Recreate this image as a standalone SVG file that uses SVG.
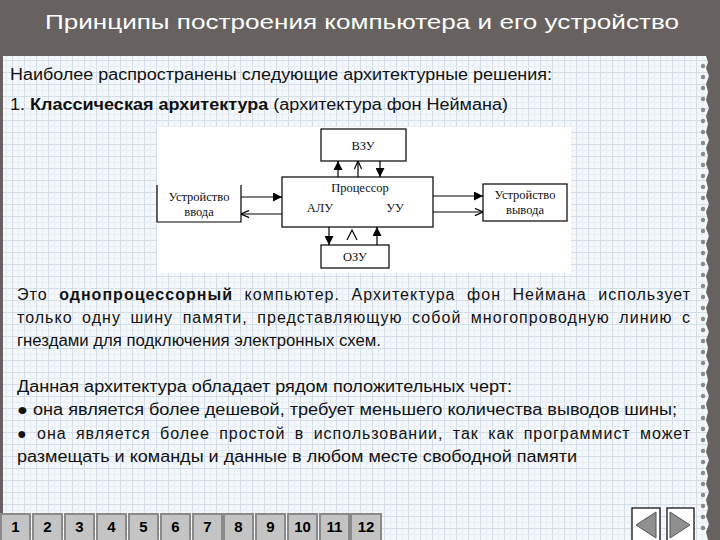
<svg xmlns="http://www.w3.org/2000/svg" width="720" height="540" viewBox="0 0 720 540">
<defs>
<style>
.t{font-family:"Liberation Sans",Arial,sans-serif;font-size:16px;fill:#111}
.b{font-weight:bold}
.s{font-family:"Liberation Serif","Times New Roman",serif;font-size:12.5px;fill:#111;text-anchor:middle}
.box{fill:#fff;stroke:#000;stroke-width:1.2}
.ln{stroke:#000;stroke-width:1.2;fill:none}
.btn{fill:#c4c4c4;stroke:#8a8a8a;stroke-width:2}
.num{font-family:"Liberation Sans",Arial,sans-serif;font-size:15px;font-weight:bold;fill:#000;text-anchor:middle}
.hole{fill:#8c8987}
</style>
<pattern id="grid" width="12" height="12" patternUnits="userSpaceOnUse">
<rect width="12" height="12" fill="#f5f8fb"/>
<path d="M0,0.5 H12 M0.5,0 V12" stroke="#d3dde8" stroke-width="1"/>
<path d="M0,6.5 H12 M6.5,0 V12" stroke="#e7edf3" stroke-width="1"/>
</pattern>
<marker id="af" viewBox="0 0 10 10" refX="10" refY="5" markerWidth="9" markerHeight="9" orient="auto" markerUnits="userSpaceOnUse"><path d="M0,0 L10,5 L0,10 z" fill="#000"/></marker>
<marker id="ao" viewBox="0 0 10 10" refX="10" refY="5" markerWidth="9" markerHeight="9" orient="auto" markerUnits="userSpaceOnUse"><path d="M1,1 L10,5 L1,9" fill="none" stroke="#000" stroke-width="1.3"/></marker>
</defs>

<rect width="720" height="540" fill="#67625f"/>
<text x="45" y="29" font-family="'Liberation Sans',Arial,sans-serif" font-size="21" fill="#fff" textLength="634" lengthAdjust="spacingAndGlyphs">Принципы построения компьютера и его устройство</text>

<g id="paper">
<path d="M3,56 H706 L708,62 L706,68 L709,76 L706,84 L708,92 L706,100 L709,108 L706,116 L708,124 L706,132 L709,140 L706,148 L708,156 L706,164 L709,172 L706,180 L708,188 L706,196 L709,204 L706,212 L708,220 L706,228 L709,236 L706,244 L708,252 L706,260 L709,268 L706,276 L708,284 L706,292 L709,300 L706,308 L708,316 L706,324 L709,332 L706,340 L708,348 L706,356 L709,364 L706,372 L708,380 L706,388 L709,396 L706,404 L708,412 L706,420 L709,428 L706,436 L708,444 L706,452 L709,460 L706,468 L708,476 L706,484 L709,492 L706,500 L708,508 L706,516 L709,524 L706,532 L708,540 H3 Z" fill="url(#grid)"/>
<g class="hole">
<circle cx="703" cy="66" r="2.2"/><circle cx="703" cy="77" r="2.2"/><circle cx="703" cy="88" r="2.2"/><circle cx="703" cy="99" r="2.2"/><circle cx="703" cy="110" r="2.2"/><circle cx="703" cy="121" r="2.2"/><circle cx="703" cy="132" r="2.2"/><circle cx="703" cy="143" r="2.2"/><circle cx="703" cy="154" r="2.2"/><circle cx="703" cy="165" r="2.2"/><circle cx="703" cy="176" r="2.2"/><circle cx="703" cy="187" r="2.2"/><circle cx="703" cy="198" r="2.2"/><circle cx="703" cy="209" r="2.2"/><circle cx="703" cy="220" r="2.2"/><circle cx="703" cy="231" r="2.2"/><circle cx="703" cy="242" r="2.2"/><circle cx="703" cy="253" r="2.2"/><circle cx="703" cy="264" r="2.2"/><circle cx="703" cy="275" r="2.2"/><circle cx="703" cy="286" r="2.2"/><circle cx="703" cy="297" r="2.2"/><circle cx="703" cy="308" r="2.2"/><circle cx="703" cy="319" r="2.2"/><circle cx="703" cy="330" r="2.2"/><circle cx="703" cy="341" r="2.2"/><circle cx="703" cy="352" r="2.2"/><circle cx="703" cy="363" r="2.2"/><circle cx="703" cy="374" r="2.2"/><circle cx="703" cy="385" r="2.2"/><circle cx="703" cy="396" r="2.2"/><circle cx="703" cy="407" r="2.2"/><circle cx="703" cy="418" r="2.2"/><circle cx="703" cy="429" r="2.2"/><circle cx="703" cy="440" r="2.2"/><circle cx="703" cy="451" r="2.2"/><circle cx="703" cy="462" r="2.2"/><circle cx="703" cy="473" r="2.2"/><circle cx="703" cy="484" r="2.2"/><circle cx="703" cy="495" r="2.2"/><circle cx="703" cy="506" r="2.2"/><circle cx="703" cy="517" r="2.2"/><circle cx="703" cy="528" r="2.2"/>
</g>
</g>

<text class="t" x="10" y="80" textLength="542" lengthAdjust="spacingAndGlyphs">Наиболее распространены следующие архитектурные решения:</text>
<text class="t" x="10" y="110" textLength="498" lengthAdjust="spacingAndGlyphs">1. <tspan class="b">Классическая архитектура</tspan> (архитектура фон Неймана)</text>

<rect x="157" y="127" width="414" height="146" fill="#fff"/>

<g id="connectors">
<path class="ln" d="M241,197 H282" marker-end="url(#af)"/>
<path class="ln" d="M282,214 H241" marker-end="url(#ao)"/>
<path class="ln" d="M433,196 H483" marker-end="url(#af)"/>
<path class="ln" d="M433,212 H483" marker-end="url(#ao)"/>
<path class="ln" d="M338,177 V161" marker-end="url(#af)"/>
<path class="ln" d="M358,177 V161" marker-end="url(#ao)"/>
<path class="ln" d="M380,161 V177" marker-end="url(#af)"/>
<path class="ln" d="M329,227 V245" marker-end="url(#af)"/>
<path class="ln" d="M347,240 L352,230 L357,240"/>
<path class="ln" d="M377,245 V227" marker-end="url(#af)"/>
</g>

<g id="vzu"><rect class="box" x="321" y="129" width="85" height="32"/><text class="s" x="363" y="150">ВЗУ</text></g>
<g id="cpu"><rect class="box" x="282" y="177" width="151" height="50"/><text class="s" x="360" y="192">Процессор</text><text class="s" x="320" y="212">АЛУ</text><text class="s" x="395" y="212">УУ</text></g>
<g id="input"><path class="ln" d="M157,185 V222 H241 V185"/><text class="s" x="199" y="201">Устройство</text><text class="s" x="199" y="216">ввода</text></g>
<g id="output"><rect class="box" x="483" y="184" width="84" height="37"/><text class="s" x="525" y="199">Устройство</text><text class="s" x="525" y="214">вывода</text></g>
<g id="ozu"><rect class="box" x="321" y="245" width="68" height="23"/><text class="s" x="355" y="261">ОЗУ</text></g>

<text class="t" x="17" y="300" word-spacing="6" textLength="673" lengthAdjust="spacing">Это <tspan class="b">однопроцессорный</tspan> компьютер. Архитектура фон Неймана использует</text>
<text class="t" x="17" y="323" word-spacing="4" textLength="673" lengthAdjust="spacing">только одну шину памяти, представляющую собой многопроводную линию с</text>
<text class="t" x="17" y="346" textLength="364" lengthAdjust="spacingAndGlyphs">гнездами для подключения электронных схем.</text>

<text class="t" x="17" y="392" textLength="495" lengthAdjust="spacingAndGlyphs">Данная архитектура обладает рядом положительных черт:</text>
<text class="t" x="17" y="415" textLength="660" lengthAdjust="spacingAndGlyphs">● она является более дешевой, требует меньшего количества выводов шины;</text>
<text class="t" x="17" y="439" word-spacing="4" textLength="673" lengthAdjust="spacing">● она является более простой в использовании, так как программист может</text>
<text class="t" x="17" y="462" textLength="560" lengthAdjust="spacingAndGlyphs">размещать и команды и данные в любом месте свободной памяти</text>

<g id="nav">
<rect class="btn" x="1" y="514" width="29" height="28"/><text class="num" x="15.5" y="532">1</text>
<rect class="btn" x="33" y="514" width="29" height="28"/><text class="num" x="47.5" y="532">2</text>
<rect class="btn" x="65" y="514" width="29" height="28"/><text class="num" x="79.5" y="532">3</text>
<rect class="btn" x="97" y="514" width="29" height="28"/><text class="num" x="111.5" y="532">4</text>
<rect class="btn" x="129" y="514" width="29" height="28"/><text class="num" x="143.5" y="532">5</text>
<rect class="btn" x="161" y="514" width="29" height="28"/><text class="num" x="175.5" y="532">6</text>
<rect class="btn" x="193" y="514" width="29" height="28"/><text class="num" x="207.5" y="532">7</text>
<rect class="btn" x="224" y="514" width="29" height="28"/><text class="num" x="238.5" y="532">8</text>
<rect class="btn" x="256" y="514" width="29" height="28"/><text class="num" x="270.5" y="532">9</text>
<rect class="btn" x="288" y="514" width="29" height="28"/><text class="num" x="302.5" y="532">10</text>
<rect class="btn" x="320" y="514" width="29" height="28"/><text class="num" x="334.5" y="532">11</text>
<rect class="btn" x="351" y="514" width="30" height="28"/><text class="num" x="366" y="532">12</text>
<rect x="632" y="508" width="28" height="34" fill="#fff" stroke="#000" stroke-width="1.2"/>
<path d="M636,525 L656,512 V538 Z" fill="#8f8f8f" stroke="#555" stroke-width="1"/>
<rect x="667" y="508" width="27" height="34" fill="#fff" stroke="#000" stroke-width="1.2"/>
<path d="M690,525 L670,512 V538 Z" fill="#8f8f8f" stroke="#555" stroke-width="1"/>
</g>
</svg>
